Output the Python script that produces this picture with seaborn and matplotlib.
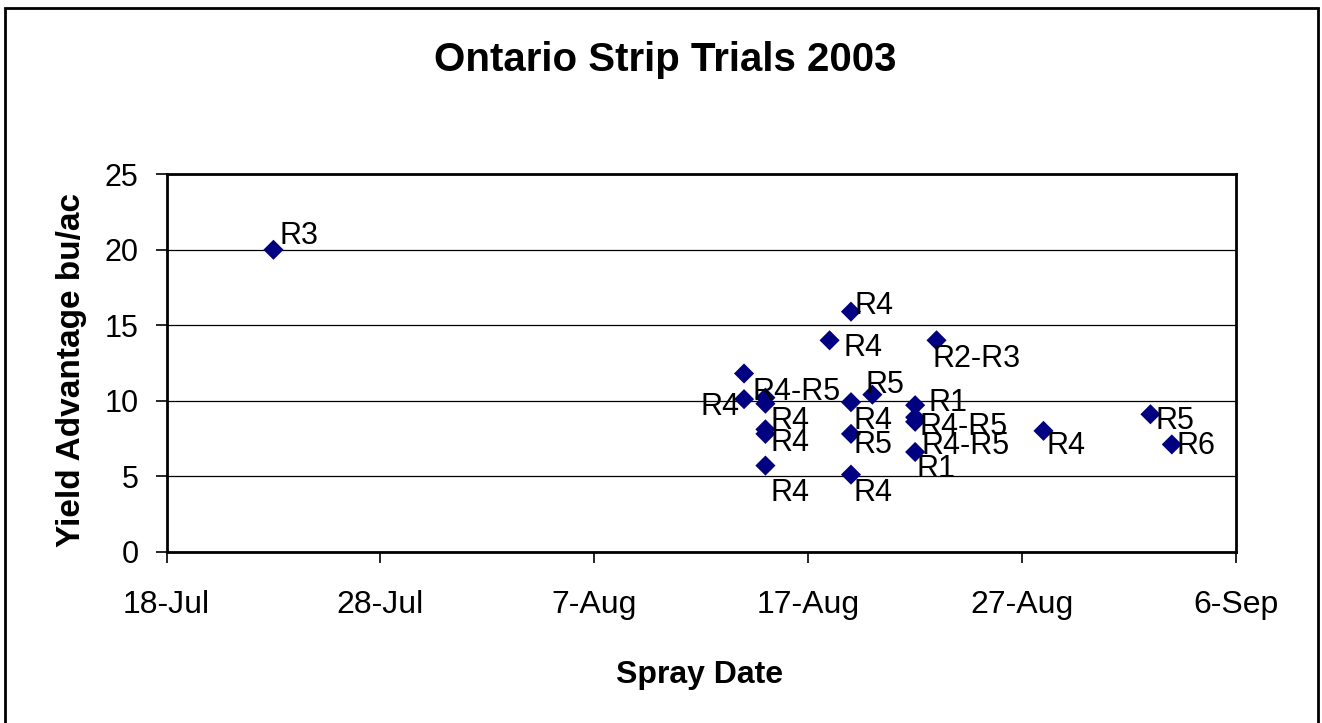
import pandas as pd
import matplotlib
matplotlib.use('Agg')
import matplotlib.pyplot as plt
import matplotlib.dates as mdates
from matplotlib.patches import Rectangle
import seaborn as sns

# Ontario strip trials 2003 - yield advantage vs spray date
spray_dates = ['2003-07-23', '2003-08-14', '2003-08-14', '2003-08-15', '2003-08-15',
               '2003-08-15', '2003-08-15', '2003-08-15', '2003-08-18', '2003-08-19',
               '2003-08-19', '2003-08-19', '2003-08-19', '2003-08-20', '2003-08-22',
               '2003-08-22', '2003-08-22', '2003-08-22', '2003-08-23', '2003-08-28',
               '2003-09-02', '2003-09-03']
yield_adv = [20.0, 11.8, 10.1, 10.2, 9.8, 8.1, 7.8, 5.7, 14.0, 15.9, 9.9, 7.8, 5.1,
             10.4, 9.7, 8.9, 8.6, 6.6, 14.0, 8.0, 9.1, 7.1]
stages = ['R3', '', 'R4', 'R4-R5', 'R4', 'R4', '', 'R4', 'R4', 'R4', 'R4', 'R5', 'R4',
          'R5', 'R1', 'R4-R5', 'R4-R5', 'R1', 'R2-R3', 'R4', 'R5', 'R6']

tick_dates = ['2003-07-18', '2003-07-28', '2003-08-07', '2003-08-17', '2003-08-27', '2003-09-06']
tick_labels = ['18-Jul', '28-Jul', '7-Aug', '17-Aug', '27-Aug', '6-Sep']
y_ticks = [0, 5, 10, 15, 20, 25]

# label offsets in pixels (dx right, dy down) and alignment
label_offsets = [(6, -14), (0, 0), (-5, 8), (-13, -6), (5, 17), (5, 14), (0, 0), (5, 27),
                 (14, 8), (4, -6), (3, 19), (3, 11), (3, 18), (-7, -10), (13, -2),
                 (4, 10), (6, 24), (1, 17), (-4, 19), (3, 15), (5, 7), (5, 2)]
label_ha = ['left'] * len(stages)
label_ha[2] = 'right'

df = pd.DataFrame({'date': pd.to_datetime(spray_dates), 'yield': yield_adv, 'stage': stages})

sns.set_style('white')
plt.rcParams['font.family'] = ['Liberation Sans', 'DejaVu Sans']
plt.rcParams['text.color'] = 'black'
plt.rcParams['xtick.color'] = 'black'
plt.rcParams['ytick.color'] = 'black'

fig = plt.figure(figsize=(13.22, 7.23), dpi=100)
ax = fig.add_axes([166.5 / 1322, 1 - 551.6 / 723, (1236 - 166.5) / 1322, (551.6 - 174.3) / 723])

sns.scatterplot(data=df, x='date', y='yield', marker='D', color='#000080', s=105,
                edgecolor='none', linewidth=0, ax=ax, zorder=3)

for (d, v, s), (dx, dy), ha in zip(zip(df['date'], df['yield'], df['stage']), label_offsets, label_ha):
    if s:
        ax.annotate(s, (mdates.date2num(d), v), xytext=(dx, -dy), textcoords='offset pixels',
                    ha=ha, va='center', fontsize=22, color='black', zorder=4)

ax.set_xlim(pd.Timestamp('2003-07-18'), pd.Timestamp('2003-09-06'))
ax.set_ylim(0, 25)
ax.set_xticks(pd.to_datetime(tick_dates))
ax.set_xticklabels(tick_labels)
ax.set_yticks(y_ticks)
ax.set_xlabel('')
ax.set_ylabel('')
ax.tick_params(axis='x', direction='out', length=8, width=1.2, pad=20, labelsize=23, bottom=True)
ax.tick_params(axis='y', direction='out', length=8, width=1.2, pad=12, labelsize=22, left=True)
ax.yaxis.grid(True, color='black', linewidth=0.9)
ax.xaxis.grid(False)
for side in ['left', 'right', 'top', 'bottom']:
    ax.spines[side].set_visible(True)
    ax.spines[side].set_color('black')
    ax.spines[side].set_linewidth(2)

fig.text(665 / 1322, 1 - 60 / 723, 'Ontario Strip Trials 2003', ha='center', va='center',
         fontsize=29, fontweight='bold')
fig.text(700 / 1322, 1 - 675 / 723, 'Spray Date', ha='center', va='center',
         fontsize=23, fontweight='bold')
fig.text(72 / 1322, 1 - 370 / 723, 'Yield Advantage bu/ac', ha='center', va='center',
         rotation=90, fontsize=24, fontweight='bold')

# outer chart border
fig.patches.append(Rectangle((5 / 1322, -0.01), 1313 / 1322, 1 - 8 / 723 + 0.01,
                             transform=fig.transFigure, fill=False, edgecolor='black',
                             linewidth=2))

fig.savefig('out.png', dpi=100)
